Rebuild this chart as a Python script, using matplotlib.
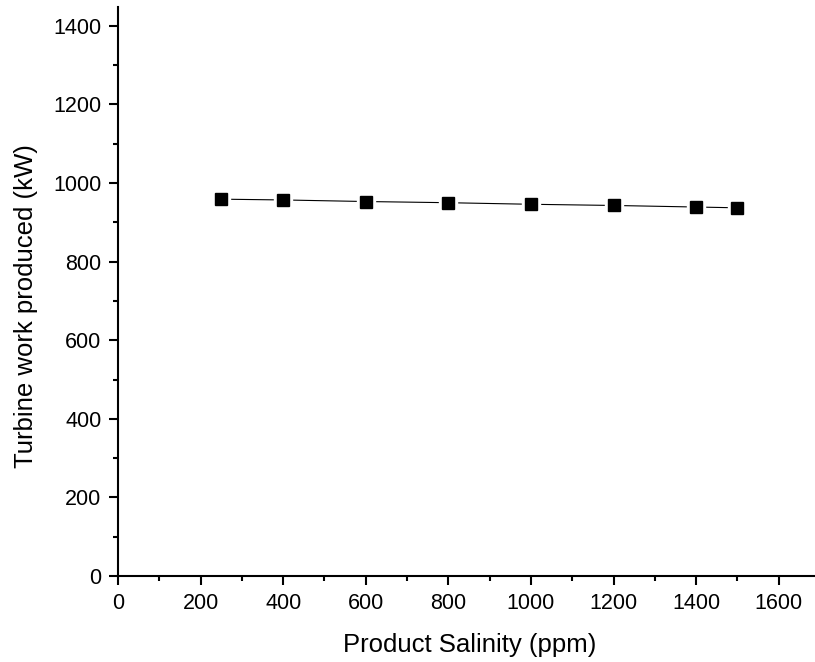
import matplotlib
matplotlib.use("Agg")
import matplotlib.pyplot as plt
from matplotlib.ticker import MultipleLocator

plt.rcParams['font.family'] = ['Liberation Sans', 'DejaVu Sans']

# data
salinity = [250, 400, 600, 800, 1000, 1200, 1400, 1500]
turbine_work = [959, 957, 953, 950, 946, 943, 939, 937]

fig = plt.figure(figsize=(8.15, 6.62), dpi=100)
ax = fig.add_axes([0.1448, 0.1299, 0.8552, 0.8595])

# line with small gaps around the markers (Origin style)
ax.plot(salinity, turbine_work, color='black', linewidth=0.8)
ax.plot(salinity, turbine_work, linestyle='none', marker='s', markersize=12.5,
        markerfacecolor='white', markeredgecolor='white')
ax.plot(salinity, turbine_work, linestyle='none', marker='s', markersize=8.6,
        markerfacecolor='black', markeredgecolor='black')

ax.set_xlim(0, 1688)
ax.set_ylim(0, 1448)
ax.xaxis.set_major_locator(MultipleLocator(200))
ax.xaxis.set_minor_locator(MultipleLocator(100))
ax.yaxis.set_major_locator(MultipleLocator(200))
ax.yaxis.set_minor_locator(MultipleLocator(100))

for s in ['top', 'right']:
    ax.spines[s].set_visible(False)
for s in ['left', 'bottom']:
    ax.spines[s].set_linewidth(1.5)

ax.tick_params(which='major', direction='out', length=6.5, width=1.5, pad=5.5, labelsize=15.5)
ax.tick_params(which='minor', direction='out', length=3.5, width=1.5)

ax.set_xlabel('Product Salinity (ppm)', fontsize=18.5, labelpad=14)
ax.set_ylabel('Turbine work produced (kW)', fontsize=18.5, labelpad=11)
ax.xaxis.label.set_x(0.504)
ax.yaxis.label.set_y(0.474)

fig.savefig('out.png', dpi=100)
